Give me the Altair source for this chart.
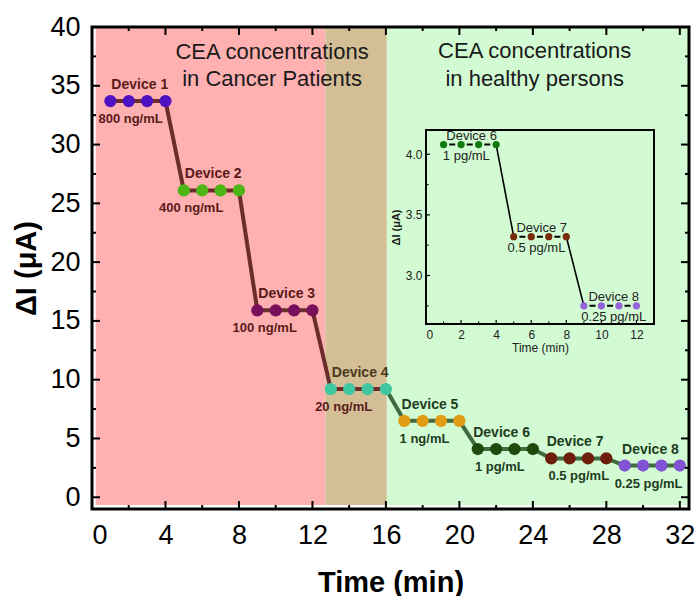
import altair as alt
import pandas as pd

# ---------------- data ----------------
devices = ["Device 1", "Device 2", "Device 3", "Device 4",
           "Device 5", "Device 6", "Device 7", "Device 8"]
concentrations = ["800 ng/mL", "400 ng/mL", "100 ng/mL", "20 ng/mL",
                  "1 ng/mL", "1 pg/mL", "0.5 pg/mL", "0.25 pg/mL"]
delta_i = [33.7, 26.1, 15.9, 9.2, 6.5, 4.1, 3.3, 2.7]
times = [[1, 2, 3, 4], [5, 6, 7, 8], [9, 10, 11, 12], [13, 14, 15, 16],
         [17, 18, 19, 20], [21, 22, 23, 24], [25, 26, 27, 28], [29, 30, 31, 32]]
marker_colors = ["#4E12C2", "#4DB515", "#7A0F5C", "#3EC7A0",
                 "#E09C12", "#1E4B0C", "#6D1F0C", "#8152D4"]
device_label_colors = ["#5A1A1A", "#5A1A1A", "#5A1A1A", "#4A3A1E",
                       "#1E3C1E", "#1E3C1E", "#1E3C1E", "#1E3C1E"]
conc_label_colors = ["#5A1A1A", "#5A1A1A", "#5A1A1A", "#5A1A1A",
                     "#1E3C1E", "#1E3C1E", "#1E3C1E", "#1E3C1E"]
device_label_x = [2.6, 6.6, 10.6, 14.6, 18.4, 22.3, 26.3, 30.4]
conc_label_x = [2.1, 5.4, 9.4, 13.7, 18.1, 22.2, 26.5, 30.3]

region_start = [0.2, 12.7, 16.05]
region_end = [12.7, 16.05, 32.5]
region_colors = ["#FFB0B0", "#D3BE95", "#D3FBD3"]
region_text = ["CEA concentrations", "in Cancer Patients",
               "CEA concentrations", "in healthy persons"]
region_text_x = [9.8, 9.8, 24.1, 24.1]
region_text_y = [37.85, 35.55, 38.0, 35.6]

x_label_values = [0, 4, 8, 12, 16, 20, 24, 28, 32]
x_minor = [2, 6, 10, 14, 18, 22, 26, 30]
y_label_values = [0, 5, 10, 15, 20, 25, 30, 35, 40]
y_minor = [2.5, 7.5, 12.5, 17.5, 22.5, 27.5, 32.5, 37.5]

inset_devices = ["Device 6", "Device 7", "Device 8"]
inset_conc = ["1 pg/mL", "0.5 pg/mL", "0.25 pg/mL"]
inset_delta = [4.08, 3.32, 2.75]
inset_times = [[1, 2, 3, 4], [5, 6, 7, 8], [9, 10, 11, 12]]
inset_colors = ["#0E7A0E", "#7A2A0C", "#9562DC"]
inset_device_label_x = [2.6, 6.6, 10.7]
inset_conc_label_x = [2.3, 6.3, 10.7]
inset_x_values = [0, 2, 4, 6, 8, 10, 12]
inset_x_minor = [1, 3, 5, 7, 9, 11]
inset_y_values = [3.0, 3.5, 4.0]
inset_y_minor = [2.75, 3.25, 3.75]

# ---------------- tables ----------------
pts = pd.DataFrame([
    {"x": t, "y": delta_i[i], "color": marker_colors[i], "device": devices[i]}
    for i in range(len(devices)) for t in times[i]
])
split = times[3][-1]
line_a = pts[pts["x"] <= split]
line_b = pts[pts["x"] >= split]

dev_lab = pd.DataFrame({"x": device_label_x, "y": delta_i, "text": devices,
                        "color": device_label_colors})
conc_lab = pd.DataFrame({"x": conc_label_x, "y": delta_i, "text": concentrations,
                         "color": conc_label_colors})
regions = pd.DataFrame({"x": region_start, "x2": region_end, "color": region_colors})
rtext = pd.DataFrame({"x": region_text_x, "y": region_text_y, "text": region_text})

ipts = pd.DataFrame([
    {"x": t, "y": inset_delta[i], "color": inset_colors[i], "device": inset_devices[i]}
    for i in range(len(inset_devices)) for t in inset_times[i]
])
iconn = pd.DataFrame({
    "x": [inset_times[i][-1] for i in range(len(inset_devices) - 1)],
    "y": [inset_delta[i] for i in range(len(inset_devices) - 1)],
    "x2": [inset_times[i + 1][0] for i in range(len(inset_devices) - 1)],
    "y2": [inset_delta[i + 1] for i in range(len(inset_devices) - 1)],
})
idev_lab = pd.DataFrame({"x": inset_device_label_x, "y": inset_delta, "text": inset_devices})
iconc_lab = pd.DataFrame({"x": inset_conc_label_x, "y": inset_delta, "text": inset_conc})

# ---------------- layout ----------------
W, H = 597, 482
FONT = "Liberation Sans"

x_main = alt.Scale(domain=[0, 32.5], nice=False, zero=False)
y_main = alt.Scale(domain=[-1, 40], nice=False, zero=False)
x_axis = alt.Axis(values=x_label_values, title="Time (min)", format="d",
                  titleFontSize=29, titleFontWeight="bold", labelFontSize=27,
                  labelPadding=13, titlePadding=20, ticks=False, domain=False,
                  grid=False, labelFont=FONT, titleFont=FONT,
                  labelColor="black", titleColor="black")
y_axis = alt.Axis(values=y_label_values, title="ΔI (μA)", format="d",
                  titleFontSize=29, titleFontWeight="bold", labelFontSize=27,
                  labelPadding=12, titlePadding=8, ticks=False, domain=False,
                  grid=False, labelFont=FONT, titleFont=FONT,
                  labelColor="black", titleColor="black")


def mx(f):
    return alt.X(f, type="quantitative", scale=x_main, axis=x_axis)


def my(f):
    return alt.Y(f, type="quantitative", scale=y_main, axis=y_axis)


bg = alt.Chart(regions).mark_rect().encode(
    x=mx("x"), x2="x2", y=alt.value(H - 4), y2=alt.value(1),
    color=alt.Color("color:N", scale=None))

rt = alt.Chart(rtext).mark_text(font=FONT, fontSize=22, color="#1A1A1A").encode(
    x=mx("x"), y=my("y"), text="text:N")

la = alt.Chart(line_a).mark_line(color="#6B2C2C", strokeWidth=4).encode(
    x=mx("x"), y=my("y"))
lb = alt.Chart(line_b).mark_line(color="#3F6B3F", strokeWidth=4).encode(
    x=mx("x"), y=my("y"))
pt = alt.Chart(pts).mark_circle(size=150, opacity=1).encode(
    x=mx("x"), y=my("y"), color=alt.Color("color:N", scale=None))

dl = alt.Chart(dev_lab).mark_text(font=FONT, fontSize=14, fontWeight="bold", dy=-16).encode(
    x=mx("x"), y=my("y"), text="text:N", color=alt.Color("color:N", scale=None))
cl = alt.Chart(conc_lab).mark_text(font=FONT, fontSize=13, fontWeight="bold", dy=18).encode(
    x=mx("x"), y=my("y"), text="text:N", color=alt.Color("color:N", scale=None))


def xticks(vals, length):
    d = pd.DataFrame({"x": vals})
    b = alt.Chart(d).mark_rule(color="black", strokeWidth=2).encode(
        x=mx("x"), y=alt.value(H), y2=alt.value(H - length))
    t = alt.Chart(d).mark_rule(color="black", strokeWidth=2).encode(
        x=mx("x"), y=alt.value(0), y2=alt.value(length))
    return [b, t]


def yticks(vals, length):
    d = pd.DataFrame({"y": vals})
    l = alt.Chart(d).mark_rule(color="black", strokeWidth=2).encode(
        y=my("y"), x=alt.value(0), x2=alt.value(length))
    r = alt.Chart(d).mark_rule(color="black", strokeWidth=2).encode(
        y=my("y"), x=alt.value(W), x2=alt.value(W - length))
    return [l, r]


frame = alt.Chart(pd.DataFrame({"a": [0]})).mark_rect(
    fill=None, stroke="black", strokeWidth=3).encode(
    x=alt.value(0), x2=alt.value(W), y=alt.value(0), y2=alt.value(H))

main = alt.layer(bg, rt, la, lb, pt, dl, cl,
                 *xticks(x_label_values, 8), *xticks(x_minor, 4),
                 *yticks(y_label_values, 8), *yticks(y_minor, 4),
                 frame)

# ---------------- inset ----------------
IX0, IX1 = 334, 562
IY0, IY1 = 297, 103
x_in = alt.Scale(domain=[0, 13], range=[IX0, IX1], nice=False, zero=False)
y_in = alt.Scale(domain=[2.6, 4.2], range=[IY0, IY1], nice=False, zero=False)
ix_axis = alt.Axis(orient="bottom", offset=-(H - IY0), values=inset_x_values,
                   format="d", title="Time (min)", titleFontSize=12,
                   titleFontWeight="normal", labelFontSize=12, labelPadding=5,
                   titlePadding=2, ticks=False, domain=False, grid=False,
                   labelFont=FONT, titleFont=FONT, labelColor="#222",
                   titleColor="#222", zindex=2)
iy_axis = alt.Axis(orient="left", offset=-IX0, values=inset_y_values,
                   format=".1f", title="ΔI (μA)", titleFontSize=11,
                   titleFontWeight="bold", labelFontSize=12, labelPadding=4,
                   titlePadding=4, ticks=False, domain=False, grid=False,
                   labelFont=FONT, titleFont=FONT, labelColor="#222",
                   titleColor="#222", zindex=2)


def ix(f):
    return alt.X(f, type="quantitative", scale=x_in, axis=ix_axis)


def iy(f):
    return alt.Y(f, type="quantitative", scale=y_in, axis=iy_axis)


iframe = alt.Chart(pd.DataFrame({"a": [0]})).mark_rect(
    fill=None, stroke="black", strokeWidth=2).encode(
    x=alt.value(IX0), x2=alt.value(IX1), y=alt.value(IY1), y2=alt.value(IY0))

idash = alt.Chart(ipts).mark_line(color="black", strokeWidth=2,
                                  strokeDash=[6, 11.5], strokeDashOffset=11.8).encode(
    x=ix("x"), y=iy("y"), detail="device:N")
iseg = alt.Chart(iconn).mark_rule(color="black", strokeWidth=1.6).encode(
    x=ix("x"), y=iy("y"), x2="x2", y2="y2")
ipt = alt.Chart(ipts).mark_circle(size=52, opacity=1).encode(
    x=ix("x"), y=iy("y"), color=alt.Color("color:N", scale=None))
idl = alt.Chart(idev_lab).mark_text(font=FONT, fontSize=13, color="#222", dy=-9).encode(
    x=ix("x"), y=iy("y"), text="text:N")
icl = alt.Chart(iconc_lab).mark_text(font=FONT, fontSize=13, color="#222", dy=11).encode(
    x=ix("x"), y=iy("y"), text="text:N")


def ixticks(vals, length):
    d = pd.DataFrame({"x": vals})
    return alt.Chart(d).mark_rule(color="black", strokeWidth=1.2).encode(
        x=ix("x"), y=alt.value(IY0), y2=alt.value(IY0 - length))


def iyticks(vals, length):
    d = pd.DataFrame({"y": vals})
    return alt.Chart(d).mark_rule(color="black", strokeWidth=1.2).encode(
        y=iy("y"), x=alt.value(IX0), x2=alt.value(IX0 + length))


inset = alt.layer(idash, iseg, ipt, idl, icl,
                  ixticks(inset_x_values, 4), ixticks(inset_x_minor, 2.5),
                  iyticks(inset_y_values, 4), iyticks(inset_y_minor, 2.5),
                  iframe)

chart = alt.layer(main, inset).resolve_scale(
    x="independent", y="independent").resolve_axis(
    x="independent", y="independent").properties(
    width=W, height=H,
    autosize=alt.AutoSizeParams(type="none"),
    padding={"left": 92, "top": 27, "right": 8, "bottom": 87},
    background="white",
).configure_view(stroke=None)

chart.save("out.html", embed_options={"renderer": "svg", "actions": False})
